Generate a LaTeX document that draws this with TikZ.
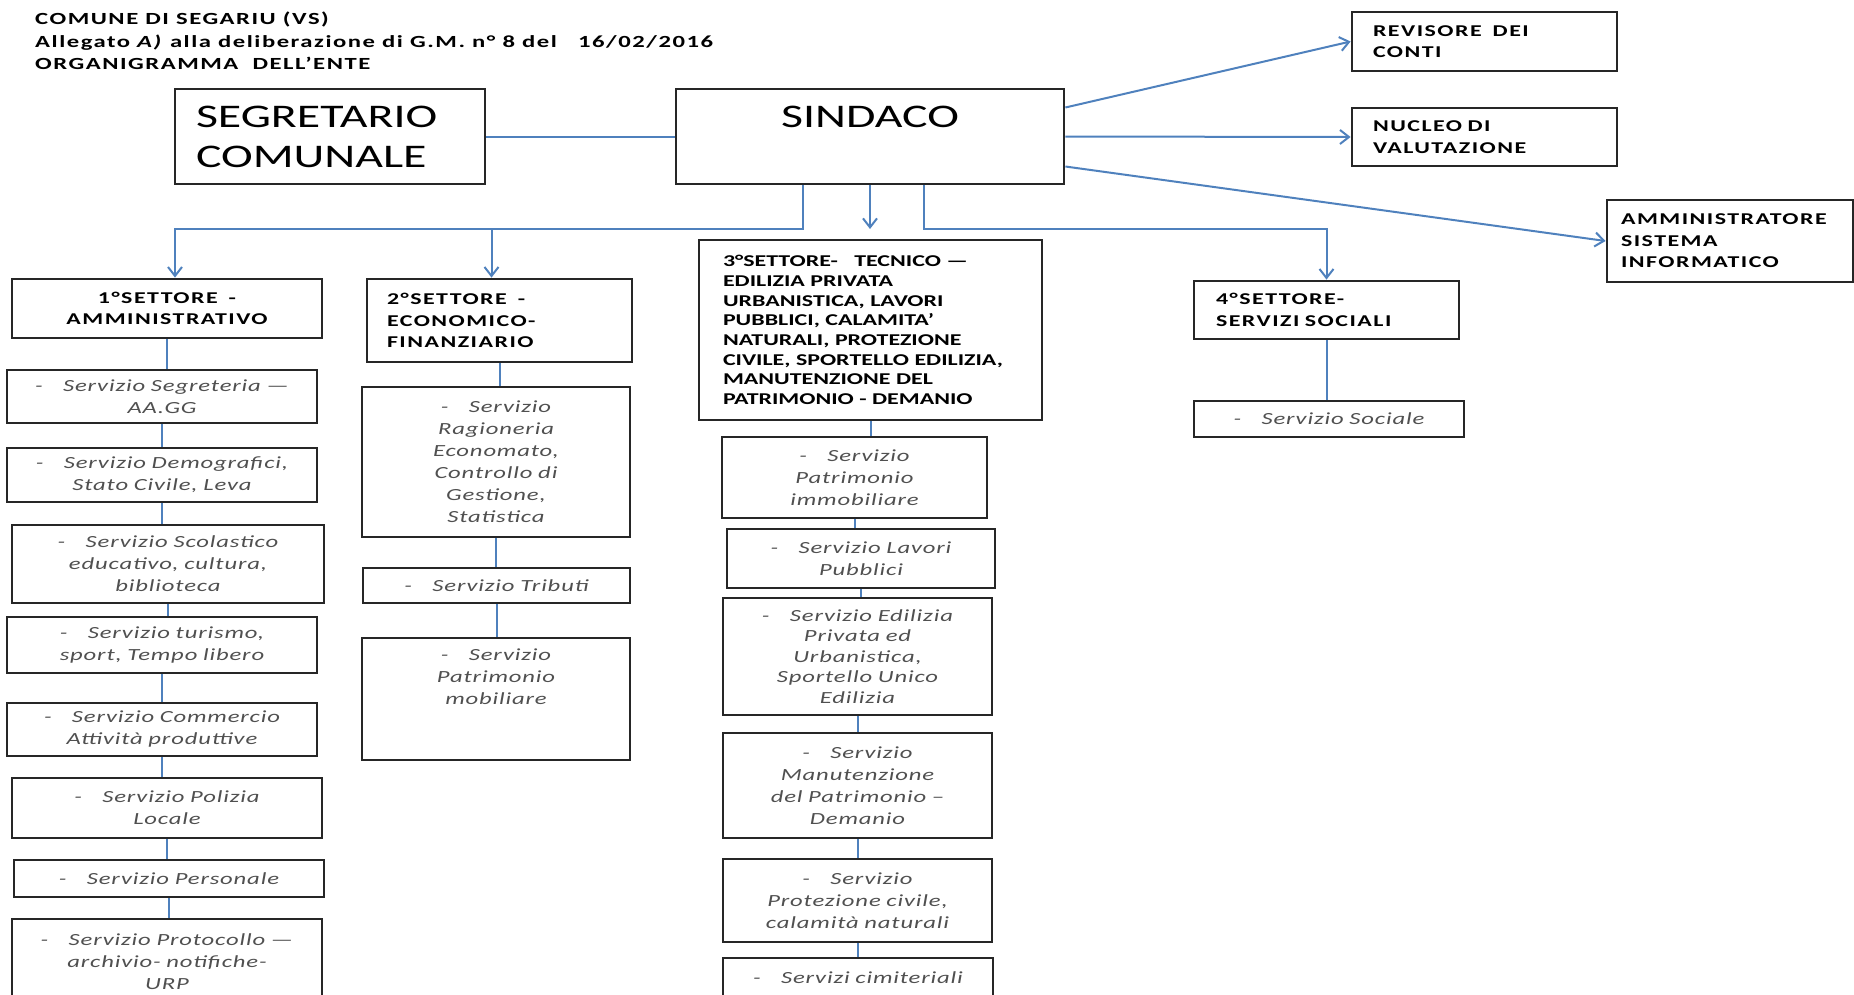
\documentclass[tikz,border=0pt]{standalone}
\usepackage{fontspec}
\setmainfont{Carlito}[FakeStretch=1.45]
\newfontfamily\widehd{Carlito}[FakeStretch=1.45, LetterSpace=9, Ligatures=TeX]
\newfontfamily\widesv{Carlito}[FakeStretch=1.45, LetterSpace=5, Ligatures=TeX]
\usetikzlibrary{arrows.meta,calc}
\definecolor{linkblue}{RGB}{79,129,189}
\definecolor{boxline}{RGB}{38,38,38}
\definecolor{servgray}{RGB}{80,80,80}
\newcommand\ttlfnt{\fontsize{17}{22}\selectfont\widehd\bfseries}
\newcommand\bigfnt{\fontsize{33}{40}\selectfont}
\newcommand\hdfnt{\fontsize{16.5}{21.5}\selectfont\widehd\bfseries}
\newcommand\svfnt{\fontsize{17}{22}\selectfont\widesv\itshape}
\newcommand\dsh{-\hspace{1.2em}}
% box from corner (#3,#4) to corner (#5,#6), #1 = side padding of the text
\newcommand\drawBox[8][18]{%
\pgfmathsetmacro\bw{#5-#3}\pgfmathsetmacro\bh{#6-#4}\pgfmathsetmacro\tw{#5-#3-2*#1}%
\node[box, #2, minimum width=\bw pt, minimum height=\bh pt, text width=\tw pt] (#7) at ({(#3+#5)/2},{(#4+#6)/2}) {#8};
}

\begin{document}
\begin{tikzpicture}[x=1pt, y=-1pt,
			box/.style={draw=boxline, line width=2.8pt, fill=white, inner xsep=0pt, inner ysep=1pt},
			big/.style={font=\bigfnt, align=left},
			hd/.style={font=\hdfnt, align=left},
			sv/.style={font=\svfnt, text=servgray, align=center},
			ttl/.style={font=\ttlfnt, anchor=base west, inner sep=0pt},
			link/.style={draw=linkblue, line width=2pt},
			arr/.style={link, -{Straight Barb[length=9pt, width=14pt]}}]

			\useasboundingbox (0,0) rectangle (1854,994);

			% heading
			\node[ttl] (ttl1) at (35,24) {COMUNE DI SEGARIU (VS)};
			\node[ttl] (ttl2) at (35,47) {Allegato \textit{A)} alla deliberazione di G.M. n° 8 del~~~16/02/2016};
			\node[ttl] (ttl3) at (35,69) {ORGANIGRAMMA~~DELL'ENTE};

			% drawing top boxes
			\drawBox[21]{big}{175}{89}{485}{184}{seg}{SEGRETARIO\\COMUNALE}
			\drawBox{big, align=center}{676}{89}{1064}{184}{sind}{SINDACO\\\mbox{}}
			\drawBox[21]{hd}{1352}{12}{1617}{71}{rev}{REVISORE~~DEI\\CONTI}
			\drawBox[21]{hd}{1352}{108}{1617}{166}{nuc}{NUCLEO DI\\VALUTAZIONE}
			\drawBox[14]{hd}{1607}{200}{1853}{282}{amm}{AMMINISTRATORE\\SISTEMA\\INFORMATICO}

			% drawing sectors
			\drawBox{hd, align=center}{12}{279}{322}{338}{h1}{1°SETTORE~~-\\AMMINISTRATIVO}
			\drawBox[20]{hd}{367}{279}{632}{362}{h2}{2°SETTORE~~-\\ECONOMICO-\\FINANZIARIO}
			\drawBox[24]{hd, font={\fontsize{16.5}{19.7}\selectfont\bfseries}}{699}{240}{1042}{420}{h3}{3°SETTORE-~~~TECNICO —\\EDILIZIA PRIVATA\\URBANISTICA, LAVORI\\PUBBLICI, CALAMITA'\\NATURALI, PROTEZIONE\\CIVILE, SPORTELLO EDILIZIA,\\MANUTENZIONE DEL\\PATRIMONIO - DEMANIO}
			\drawBox[22]{hd}{1194}{281}{1459}{339}{h4}{4°SETTORE-\\SERVIZI SOCIALI}

			% services 1
			\drawBox[6]{sv}{7}{370}{317}{423}{s1}{\dsh Servizio Segreteria —\\AA.GG}
			\drawBox[6]{sv}{7}{448}{317}{502}{s2}{\dsh Servizio Demografici,\\Stato Civile, Leva}
			\drawBox[6]{sv}{12}{525}{324}{603}{s3}{\dsh Servizio Scolastico\\educativo, cultura,\\biblioteca}
			\drawBox[6]{sv}{7}{617}{317}{673}{s4}{\dsh Servizio turismo,\\sport, Tempo libero}
			\drawBox[6]{sv}{7}{703}{317}{756}{s5}{\dsh Servizio Commercio\\Attività produttive}
			\drawBox[6]{sv}{12}{778}{322}{838}{s6}{\dsh Servizio Polizia\\Locale}
			\drawBox[6]{sv}{14}{860}{324}{897}{s7}{\dsh Servizio Personale}
			\drawBox[6]{sv}{12}{919}{322}{1005}{s8}{\dsh Servizio Protocollo —\\archivio- notifiche-\\URP}

			% services 2
			\drawBox[6]{sv}{362}{387}{630}{537}{t1}{\dsh Servizio\\Ragioneria\\Economato,\\Controllo di\\Gestione,\\Statistica}
			\drawBox[6]{sv}{363}{568}{630}{603}{t2}{\dsh Servizio Tributi}
			\drawBox[6]{sv}{362}{638}{630}{760}{t3}{\dsh Servizio\\Patrimonio\\mobiliare\\\mbox{}\\\mbox{}}

			% services 3
			\drawBox[6]{sv}{722}{437}{987}{518}{u1}{\dsh Servizio\\Patrimonio\\immobiliare}
			\drawBox[6]{sv}{727}{529}{995}{588}{u2}{\dsh Servizio Lavori\\Pubblici}
			\drawBox[6]{sv, font={\fontsize{17}{20.5}\selectfont\widesv\itshape}}{723}{598}{992}{715}{u3}{\dsh Servizio Edilizia\\Privata ed\\Urbanistica,\\Sportello Unico\\Edilizia}
			\drawBox[6]{sv}{723}{733}{992}{838}{u4}{\dsh Servizio\\Manutenzione\\del Patrimonio –\\Demanio}
			\drawBox[6]{sv}{723}{859}{992}{942}{u5}{\dsh Servizio\\Protezione civile,\\calamità naturali}
			\drawBox[6]{sv}{723}{958}{993}{998}{u6}{\dsh Servizi cimiteriali}

			% services 4
			\drawBox[6]{sv}{1194}{401}{1464}{437}{v1}{\dsh Servizio Sociale}

			% drawing arrows from the top
			\draw[link] (seg.east) -- (sind.west);
			\draw[arr] ([yshift=29pt]sind.east) -- (rev.west);
			\draw[arr] (sind.east) -- (nuc.west);
			\draw[arr] ([yshift=-30pt]sind.east) -- (amm.west);

			\coordinate (bus) at (0,229);
			\coordinate (h1in) at ([xshift=8pt]h1.north);
			\coordinate (h2in) at ([xshift=-8pt]h2.north);
			\draw[arr] ([xshift=-67pt]sind.south) |- (h1in |- bus) -- (h1in);
			\draw[arr] (h2in |- bus) -- (h2in);
			\draw[arr] (sind.south) -- (sind.south |- bus);
			\draw[arr] ([xshift=54pt]sind.south) |- (h4.north |- bus) -- (h4.north);

			% drawing columns
			\foreach \a/\b in {h1/s1,s1/s2,s2/s3,s3/s4,s4/s5,s5/s6,s6/s7,s7/s8,
				h2/t1,t1/t2,t2/t3,h3/u1,u1/u2,u2/u3,u3/u4,u4/u5,u5/u6,h4/v1}
				\draw[link] (\a) -- (\a |- \b.north);

		\end{tikzpicture}
\end{document}
